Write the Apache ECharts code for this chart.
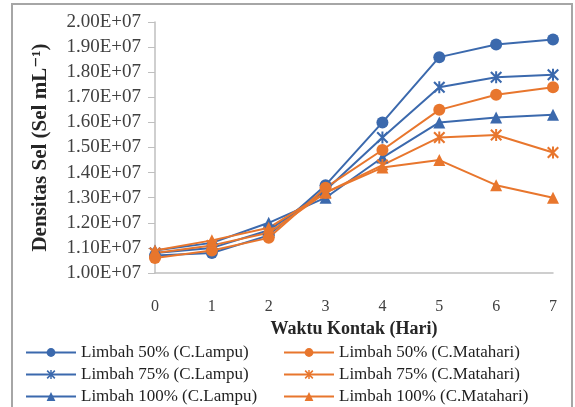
<!DOCTYPE html>
<html>
<head>
<meta charset="utf-8">
<script src="https://cdn.jsdelivr.net/npm/echarts@6/dist/echarts.min.js"></script>
<style>
  html, body { margin: 0; padding: 0; background: #fff; }
  #chart { width: 575px; height: 407px; }
</style>
</head>
<body>
<div id="chart"></div>
<script>
// hari kontak
var days = ["0", "1", "2", "3", "4", "5", "6", "7"];

// densitas sel (sel/mL)
var lampu50 = [1.07e7, 1.08e7, 1.15e7, 1.35e7, 1.60e7, 1.86e7, 1.91e7, 1.93e7];
var lampu75 = [1.08e7, 1.10e7, 1.17e7, 1.33e7, 1.54e7, 1.74e7, 1.78e7, 1.79e7];
var lampu100 = [1.09e7, 1.12e7, 1.20e7, 1.30e7, 1.46e7, 1.60e7, 1.62e7, 1.63e7];
var matahari50 = [1.06e7, 1.09e7, 1.14e7, 1.34e7, 1.49e7, 1.65e7, 1.71e7, 1.74e7];
var matahari75 = [1.08e7, 1.11e7, 1.16e7, 1.32e7, 1.43e7, 1.54e7, 1.55e7, 1.48e7];
var matahari100 = [1.09e7, 1.13e7, 1.18e7, 1.32e7, 1.42e7, 1.45e7, 1.35e7, 1.30e7];

var yMin = 1.0e7, yMax = 2.0e7, yStep = 1.0e6;

var BLUE = "#3b69ad";
var ORANGE = "#e8762d";
var SERIF = "'Liberation Serif', 'DejaVu Serif', serif";

// asterisk marker (X + vertical bar)
var starSymbol = "path://M0,1.5L1.5,0L12,10.5L10.5,12Z M10.5,0L12,1.5L1.5,12L0,10.5Z M5,0L7,0L7,12L5,12Z";

function sciLabel(v) {
  var s = v.toExponential(2).split("e");
  var exp = parseInt(s[1], 10);
  var sign = exp < 0 ? "-" : "+";
  var e = Math.abs(exp);
  return s[0] + "E" + sign + (e < 10 ? "0" + e : e);
}

function makeSeries(name, data, color, symbol, size) {
  return {
    name: name,
    type: "line",
    data: data,
    symbol: symbol,
    symbolSize: size,
    showAllSymbol: true,
    lineStyle: { color: color, width: 2 },
    itemStyle: { color: color },
    emphasis: { disabled: true },
  };
}

function makeLegend(left, names) {
  return {
    orient: "vertical",
    left: left,
    top: 344,
    height: 100,
    padding: 0,
    itemWidth: 50,
    itemHeight: 11,
    itemGap: 5,
    textStyle: { fontFamily: SERIF, fontSize: 17, color: "#1f1f1f" },
    data: names,
  };
}

var chart = echarts.init(document.getElementById("chart"));
var option = {
  animation: false,
  backgroundColor: "#fff",
  graphic: [
    {
      type: "rect",
      shape: { x: 12, y: 4, width: 560, height: 420 },
      style: { fill: "none", stroke: "#a6a6a6", lineWidth: 2 },
    },
  ],
  grid: { left: 155, right: 22, top: 22, bottom: 134 },
  legend: [
    makeLegend(25, ["Limbah 50% (C.Lampu)", "Limbah 75% (C.Lampu)", "Limbah 100% (C.Lampu)"]),
    makeLegend(283, ["Limbah 50% (C.Matahari)", "Limbah 75% (C.Matahari)", "Limbah 100% (C.Matahari)"]),
  ],
  xAxis: {
    type: "category",
    data: days,
    boundaryGap: false,
    name: "Waktu Kontak (Hari)",
    nameLocation: "middle",
    nameGap: 40,
    nameTextStyle: { fontFamily: SERIF, fontSize: 18, fontWeight: "bold", color: "#262626" },
    axisLine: { lineStyle: { color: "#bfbfbf", width: 1.5 } },
    axisTick: { show: false },
    axisLabel: { margin: 26, fontFamily: SERIF, fontSize: 16, color: "#404040" },
    splitLine: { show: false },
  },
  yAxis: {
    type: "value",
    min: yMin,
    max: yMax,
    interval: yStep,
    name: "Densitas Sel (Sel mL\u207B\u00B9)",
    nameLocation: "middle",
    nameRotate: 90,
    nameGap: 104,
    nameTextStyle: { fontFamily: SERIF, fontSize: 21, fontWeight: "bold", color: "#262626" },
    axisLine: { show: true, lineStyle: { color: "#bfbfbf", width: 1.5 } },
    axisTick: { show: true, inside: false, length: 7, lineStyle: { color: "#bfbfbf" } },
    axisLabel: {
      margin: 14,
      fontFamily: SERIF,
      fontSize: 19,
      color: "#404040",
      formatter: sciLabel,
    },
    splitLine: { show: false },
  },
  series: [
    makeSeries("Limbah 50% (C.Lampu)", lampu50, BLUE, "circle", 12),
    makeSeries("Limbah 75% (C.Lampu)", lampu75, BLUE, starSymbol, 12),
    makeSeries("Limbah 100% (C.Lampu)", lampu100, BLUE, "triangle", 12),
    makeSeries("Limbah 50% (C.Matahari)", matahari50, ORANGE, "circle", 12),
    makeSeries("Limbah 75% (C.Matahari)", matahari75, ORANGE, starSymbol, 12),
    makeSeries("Limbah 100% (C.Matahari)", matahari100, ORANGE, "triangle", 12),
  ],
};
option && chart.setOption(option);
</script>
</body>
</html>
